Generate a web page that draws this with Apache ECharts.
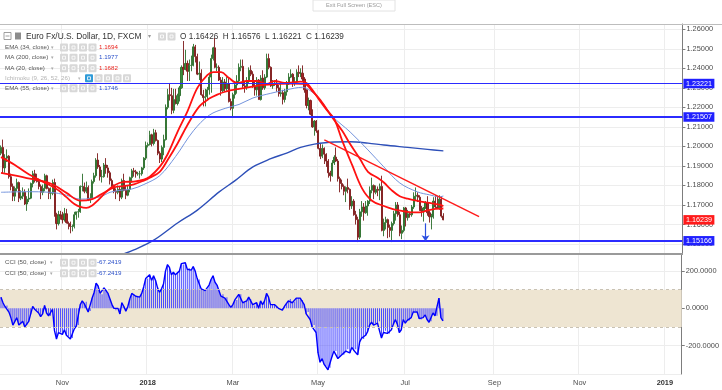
<!DOCTYPE html>
<html><head><meta charset="utf-8">
<script src="https://cdn.jsdelivr.net/npm/echarts@6/dist/echarts.min.js"></script>
<style>html,body{margin:0;padding:0;background:#fff}#c{width:722px;height:390px}</style>
</head><body><div id="c"></div>
<script>
// ---------- DATA ----------
// daily bars (weekdays) starting 2017-09-19, last real bar 2018-07-27
const firstBarDate = [2017, 8, 19];
const axisBarCount = 344;
const open = [1.1965,1.1995,1.1890,1.1940,1.1950,1.1845,1.1795,1.1745,1.1785,
1.1815,1.1735,1.1745,1.1765,1.1705,1.1730,1.1735,1.1810,1.1860,1.1825,1.1820,1.1795,1.1765,1.1785,1.1850,
1.1785,1.1760,1.1760,1.1815,1.1650,1.1605,1.1650,1.1645,1.1625,1.1655,1.1610,1.1605,1.1590,1.1590,1.1650,
1.1665,1.1665,1.1795,1.1795,1.1770,1.1790,1.1725,1.1735,1.1820,1.1850,1.1930,1.1895,1.1845,1.1845,1.1905,
1.1890,1.1865,1.1825,1.1795,1.1770,1.1765,1.1780,1.1740,1.1825,1.1775,1.1750,1.1780,1.1840,1.1875,1.1870,
1.1860,1.1860,1.1860,1.1890,1.1940,1.2005,1.2010,1.2060,1.2015,1.2070,1.2030,1.1965,1.1935,1.1995,1.2035,
1.2200,1.2265,1.2260,1.2185,1.2240,1.2220,1.2260,1.2300,1.2405,1.2395,1.2425,1.2385,1.2415,1.2415,1.2510,
1.2460,1.2370,1.2375,1.2265,1.2250,1.2255,1.2290,1.2355,1.2450,1.2505,1.2405,1.2405,1.2340,1.2285,1.2330,
1.2295,1.2320,1.2230,1.2195,1.2265,1.2315,1.2335,1.2405,1.2410,1.2310,1.2305,1.2335,1.2390,1.2370,1.2305,
1.2290,1.2340,1.2240,1.2350,1.2300,1.2355,1.2450,1.2405,1.2310,1.2320,1.2325,1.2300,1.2270,1.2275,1.2240,
1.2280,1.2320,1.2355,1.2370,1.2325,1.2330,1.2380,1.2375,1.2375,1.2345,1.2290,1.2210,1.2235,1.2165,1.2100,
1.2130,1.2080,1.1990,1.1950,1.1990,1.1960,1.1925,1.1865,1.1850,1.1915,1.1945,1.1925,1.1835,1.1810,1.1795,
1.1770,1.1790,1.1780,1.1695,1.1720,1.1650,1.1625,1.1535,1.1665,1.1690,1.1660,1.1695,1.1720,1.1775,1.1800,
1.1765,1.1780,1.1775,1.1795,1.1570,1.1610,1.1625,1.1585,1.1570,1.1605,1.1655,1.1700,1.1650,1.1555,1.1570,
1.1685,1.1635,1.1655,1.1650,1.1690,1.1745,1.1750,1.1740,1.1675,1.1670,1.1685,1.1710,1.1660,1.1640,1.1640,
1.1720,1.1690,1.1685,1.1730,1.1643];
const high = [1.2005,1.2035,1.1960,1.1985,1.1955,1.1860,1.1810,1.1795,1.1835,
1.1820,1.1775,1.1790,1.1780,1.1745,1.1785,1.1815,1.1875,1.1880,1.1860,1.1835,1.1805,1.1805,1.1860,1.1855,
1.1790,1.1790,1.1830,1.1835,1.1660,1.1670,1.1670,1.1665,1.1685,1.1680,1.1615,1.1615,1.1600,1.1665,1.1665,
1.1680,1.1800,1.1860,1.1815,1.1820,1.1800,1.1760,1.1830,1.1865,1.1940,1.1965,1.1905,1.1880,1.1915,1.1940,
1.1905,1.1875,1.1835,1.1805,1.1785,1.1800,1.1795,1.1835,1.1860,1.1800,1.1800,1.1845,1.1885,1.1890,1.1880,
1.1870,1.1875,1.1895,1.1945,1.2025,1.2020,1.2080,1.2065,1.2090,1.2085,1.2035,1.1975,1.2005,1.2060,1.2215,
1.2295,1.2325,1.2300,1.2295,1.2295,1.2270,1.2310,1.2415,1.2540,1.2495,1.2440,1.2445,1.2465,1.2525,1.2520,
1.2475,1.2435,1.2395,1.2290,1.2295,1.2305,1.2370,1.2470,1.2510,1.2555,1.2425,1.2415,1.2355,1.2355,1.2345,
1.2355,1.2350,1.2245,1.2275,1.2335,1.2365,1.2425,1.2445,1.2445,1.2335,1.2355,1.2405,1.2415,1.2385,1.2335,
1.2355,1.2345,1.2365,1.2390,1.2370,1.2475,1.2475,1.2410,1.2340,1.2335,1.2345,1.2315,1.2325,1.2290,1.2295,
1.2335,1.2375,1.2395,1.2375,1.2355,1.2395,1.2415,1.2400,1.2415,1.2355,1.2290,1.2250,1.2240,1.2190,1.2135,
1.2135,1.2085,1.2015,1.2010,1.1995,1.1965,1.1935,1.1875,1.1930,1.1955,1.1995,1.1935,1.1845,1.1830,1.1805,
1.1795,1.1835,1.1785,1.1745,1.1730,1.1670,1.1640,1.1680,1.1720,1.1710,1.1720,1.1725,1.1795,1.1840,1.1805,
1.1800,1.1795,1.1810,1.1850,1.1630,1.1640,1.1630,1.1600,1.1615,1.1670,1.1715,1.1715,1.1665,1.1595,1.1690,
1.1690,1.1675,1.1665,1.1700,1.1765,1.1790,1.1765,1.1750,1.1695,1.1690,1.1720,1.1745,1.1670,1.1655,1.1740,
1.1750,1.1745,1.1750,1.1745,1.1658];
const low = [1.1955,1.1860,1.1865,1.1920,1.1835,1.1775,1.1720,1.1720,1.1770,
1.1715,1.1725,1.1730,1.1700,1.1670,1.1715,1.1730,1.1790,1.1815,1.1815,1.1780,1.1730,1.1750,1.1770,1.1780,
1.1730,1.1730,1.1750,1.1640,1.1575,1.1595,1.1625,1.1605,1.1615,1.1605,1.1575,1.1555,1.1565,1.1580,1.1625,
1.1635,1.1660,1.1770,1.1760,1.1760,1.1720,1.1710,1.1735,1.1810,1.1840,1.1885,1.1825,1.1815,1.1840,1.1860,
1.1840,1.1805,1.1785,1.1760,1.1730,1.1755,1.1720,1.1730,1.1770,1.1730,1.1745,1.1765,1.1815,1.1845,1.1840,
1.1850,1.1835,1.1850,1.1880,1.1930,1.1995,1.2005,1.2000,1.2005,1.2025,1.1955,1.1915,1.1920,1.1955,1.2030,
1.2190,1.2235,1.2165,1.2170,1.2215,1.2210,1.2230,1.2295,1.2365,1.2390,1.2335,1.2335,1.2385,1.2410,1.2430,
1.2365,1.2340,1.2260,1.2205,1.2205,1.2235,1.2265,1.2275,1.2440,1.2400,1.2385,1.2335,1.2260,1.2275,1.2280,
1.2285,1.2225,1.2185,1.2155,1.2245,1.2270,1.2330,1.2385,1.2300,1.2275,1.2290,1.2325,1.2360,1.2300,1.2260,
1.2260,1.2240,1.2235,1.2290,1.2290,1.2350,1.2395,1.2305,1.2295,1.2310,1.2280,1.2255,1.2255,1.2215,1.2225,
1.2260,1.2315,1.2350,1.2305,1.2310,1.2325,1.2355,1.2355,1.2335,1.2275,1.2195,1.2185,1.2160,1.2095,1.2055,
1.2070,1.1985,1.1935,1.1940,1.1910,1.1895,1.1840,1.1820,1.1845,1.1905,1.1920,1.1820,1.1765,1.1780,1.1750,
1.1715,1.1760,1.1675,1.1680,1.1645,1.1600,1.1510,1.1525,1.1640,1.1620,1.1655,1.1645,1.1705,1.1760,1.1730,
1.1755,1.1745,1.1725,1.1565,1.1540,1.1575,1.1530,1.1535,1.1510,1.1595,1.1620,1.1640,1.1540,1.1525,1.1560,
1.1590,1.1620,1.1635,1.1640,1.1680,1.1720,1.1715,1.1670,1.1640,1.1615,1.1680,1.1645,1.1610,1.1575,1.1630,
1.1685,1.1680,1.1675,1.1635,1.1622];
const close = [1.1995,1.1890,1.1940,1.1950,1.1845,1.1795,1.1745,1.1785,1.1815,
1.1735,1.1745,1.1765,1.1705,1.1730,1.1735,1.1810,1.1860,1.1825,1.1820,1.1795,1.1765,1.1785,1.1850,1.1785,
1.1760,1.1760,1.1815,1.1650,1.1605,1.1650,1.1645,1.1625,1.1655,1.1610,1.1605,1.1590,1.1590,1.1650,1.1665,
1.1665,1.1795,1.1795,1.1770,1.1790,1.1725,1.1735,1.1820,1.1850,1.1930,1.1895,1.1845,1.1845,1.1905,1.1890,
1.1865,1.1825,1.1795,1.1770,1.1765,1.1780,1.1740,1.1825,1.1775,1.1750,1.1780,1.1840,1.1875,1.1870,1.1860,
1.1860,1.1860,1.1890,1.1940,1.2005,1.2010,1.2060,1.2015,1.2070,1.2030,1.1965,1.1935,1.1995,1.2035,1.2200,
1.2265,1.2260,1.2185,1.2240,1.2220,1.2260,1.2300,1.2405,1.2395,1.2425,1.2385,1.2415,1.2415,1.2510,1.2460,
1.2370,1.2375,1.2265,1.2250,1.2255,1.2290,1.2355,1.2450,1.2505,1.2405,1.2405,1.2340,1.2285,1.2330,1.2295,
1.2320,1.2230,1.2195,1.2265,1.2315,1.2335,1.2405,1.2410,1.2310,1.2305,1.2335,1.2390,1.2370,1.2305,1.2290,
1.2340,1.2240,1.2350,1.2300,1.2355,1.2450,1.2405,1.2310,1.2320,1.2325,1.2300,1.2270,1.2275,1.2240,1.2280,
1.2320,1.2355,1.2370,1.2325,1.2330,1.2380,1.2375,1.2375,1.2345,1.2290,1.2210,1.2235,1.2165,1.2100,1.2130,
1.2080,1.1990,1.1950,1.1990,1.1960,1.1925,1.1865,1.1850,1.1915,1.1945,1.1925,1.1835,1.1810,1.1795,1.1770,
1.1790,1.1780,1.1695,1.1720,1.1650,1.1625,1.1535,1.1665,1.1690,1.1660,1.1695,1.1720,1.1775,1.1800,1.1765,
1.1780,1.1775,1.1795,1.1570,1.1610,1.1625,1.1585,1.1570,1.1605,1.1655,1.1700,1.1650,1.1555,1.1570,1.1685,
1.1635,1.1655,1.1650,1.1690,1.1745,1.1750,1.1740,1.1675,1.1670,1.1685,1.1710,1.1660,1.1640,1.1640,1.1720,
1.1690,1.1685,1.1730,1.1643,1.1624];

// moving-average lines: [bar index, value]
const ma20 = [[0,1.1945],[7,1.1905],[13,1.1864],[19,1.1830],[25,1.1800],[29,1.1775],[33,1.1740],[37,1.1705],[40,1.1690],
[43,1.1685],[46,1.1698],[49,1.1725],[53,1.1767],[57,1.1800],[62,1.1818],[67,1.1820],[72,1.1830],[75,1.1845],[80,1.1895],
[84,1.1960],[89,1.2075],[94,1.2180],[99,1.2300],[104,1.2365],[107,1.2381],[111,1.2380],[115,1.2350],[119,1.2325],
[124,1.2335],[129,1.2335],[134,1.2320],[138,1.2335],[143,1.2325],[147,1.2328],[151,1.2332],[154,1.2325],[158,1.2275],
[161,1.2230],[164,1.2190],[168,1.2140],[172,1.2030],[177,1.1905],[182,1.1785],[187,1.1722],[193,1.1695],[198,1.1678],
[203,1.1668],[207,1.1662],[211,1.1662],[215,1.1672],[219,1.1680],[223,1.1682]];
const ema34 = [[0,1.1864],[13,1.1838],[25,1.1810],[33,1.1762],[40,1.1722],[46,1.1730],[50,1.1752],[57,1.1790],[62,1.1797],
[67,1.1806],[72,1.1825],[75,1.1840],[80,1.1870],[84,1.1930],[89,1.2015],[94,1.2110],[100,1.2205],[105,1.2245],[109,1.2265],
[113,1.2280],[120,1.2295],[126,1.2305],[132,1.2315],[140,1.2320],[147,1.2322],[153,1.2320],[157,1.2282],[161,1.2237],
[167,1.2148],[172,1.2080],[176,1.2012],[181,1.1935],[185,1.1870],[190,1.1838],[193,1.1815],[197,1.1775],[201,1.1745],
[205,1.1732],[210,1.1721],[215,1.1712],[221,1.1702],[223,1.1694]];
const ema55 = [[0,1.1765],[13,1.1768],[25,1.1765],[33,1.1750],[40,1.1730],[50,1.1742],[55,1.1765],[60,1.1775],[66,1.1782],
[72,1.1805],[80,1.1850],[88,1.1948],[97,1.2080],[105,1.2160],[113,1.2195],[120,1.2215],[127,1.2248],[136,1.2272],
[144,1.2290],[152,1.2303],[156,1.2285],[161,1.2238],[167,1.2155],[176,1.2074],[185,1.1982],[193,1.1895],[201,1.1813],
[210,1.1767],[216,1.1752],[221,1.1742],[223,1.1746]];
const ma200 = [[50,1.1400],[60,1.1442],[67,1.1470],[77,1.1520],[89,1.1608],[99,1.1674],[110,1.1767],[118,1.1825],
[127,1.1895],[136,1.1937],[144,1.1966],[151,1.1995],[158,1.2012],[168,1.2023],[176,1.2024],[185,1.2017],[193,1.2007],
[205,1.1995],[215,1.1985],[223,1.1977]];

const cci = [60,30,10,15,-20,-50,-90,-70,-50,
-90,-85,-70,-100,-90,-70,-30,10,-5,-10,-25,-45,-30,15,-25,
-40,-40,-5,-120,-165,-130,-130,-140,-115,-145,-150,-165,-160,-110,-95,
-90,20,40,25,35,-20,-15,55,85,135,120,80,75,110,100,
80,50,20,0,-10,0,-30,30,10,-15,10,50,80,75,65,
65,60,80,115,160,160,180,150,175,150,110,85,105,130,200,
235,220,180,195,180,190,200,240,235,245,210,215,205,225,200,
160,155,105,95,95,105,125,155,175,140,125,95,65,75,55,
60,20,5,20,45,45,75,75,30,30,40,60,50,20,15,
30,0,40,20,40,80,60,20,20,20,10,0,0,-10,10,
25,40,50,30,35,55,55,55,45,20,-30,-20,-60,-100,-90,
-130,-240,-290,-270,-300,-310,-330,-320,-260,-230,-230,-270,-260,-250,-250,
-230,-220,-240,-210,-225,-220,-250,-180,-160,-165,-145,-125,-90,-75,-90,
-80,-80,-70,-160,-130,-120,-135,-135,-115,-85,-60,-85,-130,-115,-60,
-80,-65,-65,-50,-20,-15,-20,-55,-60,-50,-35,-60,-75,-70,-25,
-40,-40,55,-50,-67.2419];

const levels = [1.23221, 1.21507, 1.15166];
const levelWidths = [1.2, 2, 2];
const lastPrice = 1.16239;
const trendLine = [[163, 1.2033], [241, 1.1640]];
const arrowLine = [[214, 1.1606], [214, 1.1514]];
const cciBand = [100, -100];
const monthNames = ['Jan','Feb','Mar','Apr','May','Jun','Jul','Aug','Sep','Oct','Nov','Dec'];

// ---------- BUILD ----------
const dates = [];
(function(){
  const d = new Date(Date.UTC(firstBarDate[0], firstBarDate[1], firstBarDate[2]));
  while (dates.length < axisBarCount) {
    const wd = d.getUTCDay();
    if (wd !== 0 && wd !== 6) dates.push(d.toISOString().slice(0,10));
    d.setUTCDate(d.getUTCDate() + 1);
  }
})();
function isLabelBar(i){
  if (i <= 0) return false;
  const m = +dates[i].slice(5,7) - 1, pm = +dates[i-1].slice(5,7) - 1;
  return m !== pm && m % 2 === 0;
}
function fmtDate(v){
  const m = +v.slice(5,7) - 1;
  return m === 0 ? '{y|' + v.slice(0,4) + '}' : monthNames[m];
}
const candles = close.map((c,i)=>[open[i], c, low[i], high[i]]);

const FONT = 'Liberation Sans, Arial, sans-serif';
const AX = '#4d4d4d';
const GRIDC = '#ededed';
const W = 682.4;

const chart = echarts.init(document.getElementById('c'), null, {renderer:'canvas'});

const gfx = [];
function txt(t, x, y, size, fill, align){
  gfx.push({type:'text', silent:true, z:100, style:{text:t, x:x, y:y, fill:fill, font: size+'px '+FONT, verticalAlign:'middle', align: align||'left'}});
}
function icons(x0, y, n, firstBlue){
  for (let k=0;k<n;k++){
    gfx.push({type:'rect', silent:true, z:100, shape:{x:x0+k*9.5, y:y-4, width:8, height:8, r:1},
      style:{fill: (firstBlue && k===0) ? '#2f9bd8' : '#d8d8d8', stroke:null}});
    gfx.push({type:'rect', silent:true, z:101, shape:{x:x0+k*9.5+2.5, y:y-1.5, width:3, height:3},
      style:{fill:'none', stroke:'#fff', lineWidth:0.8}});
  }
}
// frame lines
gfx.push({type:'line', silent:true, z:50, shape:{x1:0,y1:24.5,x2:722,y2:24.5}, style:{stroke:'#bdbdbd', lineWidth:1}});
gfx.push({type:'line', silent:true, z:50, shape:{x1:0,y1:254,x2:683,y2:254}, style:{stroke:'#9a9a9a', lineWidth:2}});
// exit full screen hint
gfx.push({type:'rect', silent:true, z:100, shape:{x:313,y:0,width:82,height:11}, style:{fill:'#fff', stroke:'#e2e2e2'}});
txt('Exit Full Screen (ESC)', 354, 5.5, 5.6, '#9a9a9a', 'center');
// title row
gfx.push({type:'rect', silent:true, z:100, shape:{x:4,y:32.5,width:7,height:7}, style:{fill:'none', stroke:'#888', lineWidth:0.8}});
gfx.push({type:'line', silent:true, z:100, shape:{x1:5.5,y1:36,x2:9.5,y2:36}, style:{stroke:'#888', lineWidth:0.8}});
gfx.push({type:'rect', silent:true, z:100, shape:{x:15,y:32.5,width:6,height:7}, style:{fill:'#8c8c8c'}});
txt('Euro Fx/U.S. Dollar, 1D, FXCM', 26, 36.5, 8.4, '#333');
txt('\u25BE', 148, 36.5, 6, '#999');
icons(158, 36.5, 2, false);
txt('O 1.16426  H 1.16576  L 1.16221  C 1.16239', 180, 36.5, 8.2, '#333');
// indicator rows
const rows = [
  ['EMA (34, close)', '1.1694', '#e8231d', 47.5, false, '#555'],
  ['MA (200, close)', '1.1977', '#2a4fc9', 57.7, false, '#555'],
  ['MA (20, close)', '1.1682', '#e8231d', 68.2, false, '#555'],
  ['Ichimoku (9, 26, 52, 26)', '', '', 78.3, true, '#b5b5b5'],
  ['EMA (55, close)', '1.1746', '#2a4fc9', 88.3, false, '#555']
];
rows.forEach(r=>{
  txt(r[0], 5, r[3], 6.2, r[5]);
  if (r[4]) { txt('\u25BE', 78, r[3], 5, '#bbb'); icons(85, r[3], 5, true); }
  else {
    txt('\u25BE', 51, r[3], 5, '#aaa');
    icons(60, r[3], 4, false);
    txt(r[1], 99, r[3], 6.2, r[2]);
  }
});
[262.7, 273.3].forEach(y=>{
  txt('CCI (50, close)', 5, y, 6.2, '#555');
  txt('\u25BE', 50, y, 5, '#aaa');
  icons(60, y, 4, false);
  txt('-67.2419', 97, y, 6.2, '#2a4fc9');
});

const lineSeries = (name, data, color, width) => ({
  name, type:'line', xAxisIndex:0, yAxisIndex:0, data, smooth:0.35, showSymbol:false, symbol:'none',
  lineStyle:{color, width}, clip:true, z:4, silent:true
});
const boxLabel = (text, bg) => ({show:true, position:'end', distance:1, formatter:text, color:'#fff', backgroundColor:bg,
  fontSize:7.2, fontFamily:FONT, padding:[1.5,2.5,1,2.5]});

const option = {
  animation:false,
  backgroundColor:'#fff',
  textStyle:{fontFamily:FONT},
  grid:[
    {left:0, top:24, width:W, height:230},
    {left:0, top:254, width:W, height:120}
  ],
  xAxis:[
    {type:'category', gridIndex:0, data:dates, boundaryGap:true,
     axisLine:{show:false}, axisTick:{show:false}, axisLabel:{show:false},
     splitLine:{show:true, interval:isLabelBar, lineStyle:{color:GRIDC, width:1}}},
    {type:'category', gridIndex:1, data:dates, boundaryGap:true,
     axisLine:{show:true, lineStyle:{color:'#7d7d7d', width:1}},
     axisTick:{show:true, interval:isLabelBar, alignWithLabel:true, length:3, lineStyle:{color:'#7d7d7d'}},
     axisLabel:{show:true, interval:isLabelBar, formatter:fmtDate, color:AX, fontSize:7.4, margin:5, fontFamily:FONT,
       rich:{y:{fontWeight:'bold', color:'#333', fontSize:7.4, fontFamily:FONT}}},
     splitLine:{show:true, interval:isLabelBar, lineStyle:{color:GRIDC, width:1}}}
  ],
  yAxis:[
    {type:'value', gridIndex:0, position:'right', min:1.1449, max:1.2627, splitNumber:12, scale:true,
     axisLine:{show:true, lineStyle:{color:'#7d7d7d'}}, axisTick:{show:true, length:3, lineStyle:{color:'#7d7d7d'}},
     axisLabel:{color:AX, fontSize:7.4, margin:4, fontFamily:FONT, showMinLabel:false, showMaxLabel:false,
       formatter:v=>v.toFixed(5)},
     splitLine:{show:true, lineStyle:{color:GRIDC}}},
    {type:'value', gridIndex:1, position:'right', min:-353, max:292, splitNumber:3,
     axisLine:{show:true, lineStyle:{color:'#7d7d7d'}}, axisTick:{show:true, length:3, lineStyle:{color:'#7d7d7d'}},
     axisLabel:{color:AX, fontSize:7.4, margin:4, fontFamily:FONT, showMinLabel:false, showMaxLabel:false,
       formatter:v=>v.toFixed(4)},
     splitLine:{show:true, lineStyle:{color:GRIDC}}}
  ],
  series:[
    {type:'candlestick', xAxisIndex:0, yAxisIndex:0, data:candles, barWidth:1.6, z:3, silent:true,
     itemStyle:{color:'#3b8f3b', color0:'#a82424', borderColor:'#2b6e2b', borderColor0:'#7d1a1a', borderWidth:0.9}},
    lineSeries('MA200', ma200, '#2d4fb8', 1.4),
    lineSeries('EMA55', ema55, '#7393dc', 1),
    lineSeries('EMA34', ema34, '#ff1111', 1.8),
    lineSeries('MA20', ma20, '#ff1111', 1.8),
    {type:'line', xAxisIndex:0, yAxisIndex:0, data:[], clip:false, z:6, silent:true,
     markLine:{silent:true, symbol:['none','none'], animation:false, precision:5,
       data: levels.map((v,i)=>({yAxis:v, lineStyle:{color:'#2b2bff', width:levelWidths[i], type:'solid'},
           label:boxLabel(v.toFixed(5), '#2020ff')}))
         .concat([{yAxis:lastPrice, lineStyle:{color:'rgba(0,0,0,0)', width:0},
           label:boxLabel(lastPrice.toFixed(5), '#ff1a1a')}])
         .concat([[{coord:trendLine[0], lineStyle:{color:'#ff1a1a', width:1.4, type:'solid'}, label:{show:false}},
                   {coord:trendLine[1]}]])
         .concat([[{coord:arrowLine[0], symbol:'none', lineStyle:{color:'#2b4fe0', width:1.2, type:'solid'}, label:{show:false}},
                   {coord:arrowLine[1], symbol:'arrow', symbolSize:6}]])
     }},
    {type:'line', xAxisIndex:1, yAxisIndex:1, data:[], z:1, silent:true,
     markArea:{silent:true, itemStyle:{color:'#eee5d2'}, data:[[{yAxis:cciBand[0]},{yAxis:cciBand[1]}]]},
     markLine:{silent:true, symbol:['none','none'], label:{show:false}, precision:2,
       lineStyle:{color:'#c9c2b4', type:[3,3], width:1},
       data:[{yAxis:cciBand[0]},{yAxis:cciBand[1]}]}},
    {type:'bar', xAxisIndex:1, yAxisIndex:1, data:cci, barWidth:1, z:2, silent:true,
     itemStyle:{color:'#4a4aff'}},
    {type:'line', xAxisIndex:1, yAxisIndex:1, data:cci, showSymbol:false, symbol:'none', z:3, silent:true,
     lineStyle:{color:'#0000ff', width:1.4}}
  ],
  graphic: gfx
};
chart.setOption(option);
</script></body></html>
